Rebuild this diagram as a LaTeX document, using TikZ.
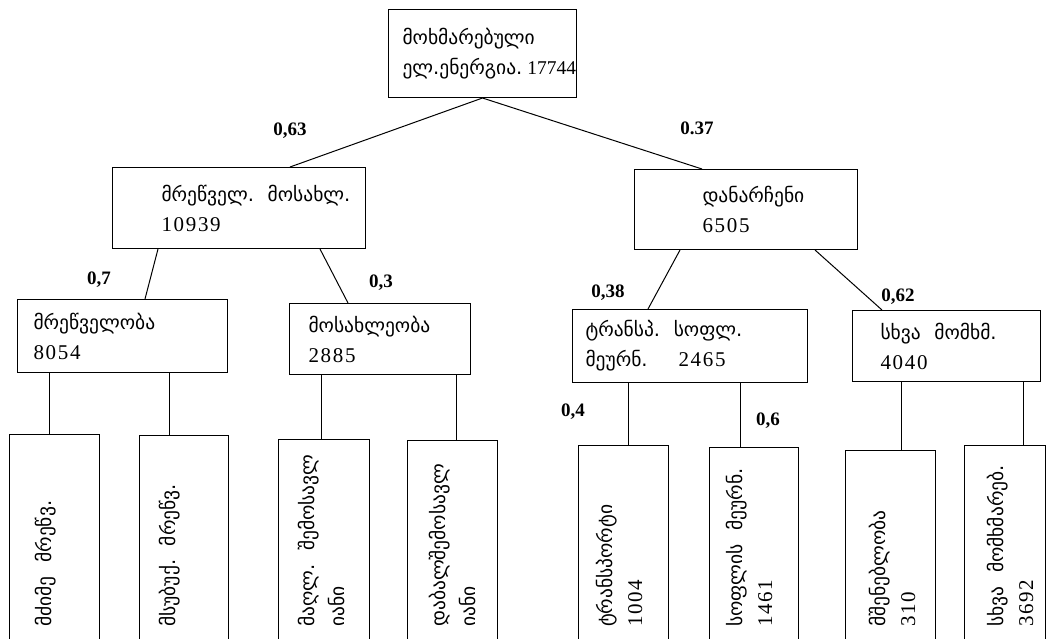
\documentclass[tikz,border=0pt]{standalone}
\usepackage{fontspec}
\setmainfont{Liberation Serif}
\newfontfamily\geo{DejaVu Sans}
\newfontfamily\dig[LetterSpace=8]{Liberation Serif}
\tikzset{
  box/.style 2 args={draw, line width=1pt, anchor=north west, align=left,
    minimum width=#1, minimum height=#2, text width=#1, inner xsep=0pt, inner ysep=2pt},
  txt/.style={font=\fontsize{20}{30}\selectfont},
  vtxt/.style={rotate=90, anchor=west, inner sep=0pt, align=left, font=\fontsize{20}{30}\selectfont},
  lbl/.style={font=\bfseries\fontsize{19}{22}\selectfont, inner sep=0pt},
  con/.style={line width=1pt}
}
\newcommand{\ka}[1]{{\geo\fontsize{19.5}{30}\selectfont #1}}
\newcommand{\nm}[1]{{\dig\fontsize{21}{30}\selectfont #1}}
\newcommand{\bxl}[2]{\hspace*{#1}\mbox{#2}}
\newcommand{\gap}{\hspace{0.7em}}
\begin{document}
\begin{tikzpicture}[x=1pt,y=-1pt]
\useasboundingbox (0,0) rectangle (1048,638);
\clip (0,0) rectangle (1048,638);
\fill[white] (0,0) rectangle (1048,638);
% top
\node[box={188pt}{88pt}, txt] (top) at (388,9)
  {\bxl{14pt}{\ka{მოხმარებული}}\\\bxl{14pt}{\ka{ელ.ენერგია.}\hspace{5pt}{\fontsize{19.5}{30}\selectfont 17744}}};
% level 2
\node[box={253pt}{81pt}, txt] (l2a) at (112,167)
  {\bxl{49pt}{\ka{მრეწველ.\gap მოსახლ.}}\\\bxl{49pt}{\nm{10939}}};
\node[box={223pt}{80pt}, txt] (l2b) at (634,169)
  {\bxl{68pt}{\ka{დანარჩენი}}\\\bxl{68pt}{\nm{6505}}};
% level 3
\node[box={210pt}{73pt}, txt] (l3a) at (17,299)
  {\bxl{16pt}{\ka{მრეწველობა}}\\\bxl{16pt}{\nm{8054}}};
\node[box={181pt}{71pt}, txt] (l3b) at (289,303)
  {\bxl{19pt}{\ka{მოსახლეობა}}\\\bxl{19pt}{\nm{2885}}};
\node[box={235pt}{73pt}, txt] (l3c) at (572,309)
  {\bxl{13pt}{\ka{ტრანსპ.\gap სოფლ.}}\\\bxl{13pt}{\makebox[93pt][l]{\ka{მეურნ.}}\nm{2465}}};
\node[box={188pt}{71pt}, txt] (l3d) at (852,310)
  {\bxl{28pt}{\ka{სხვა\gap მომხმ.}}\\\bxl{28pt}{\nm{4040}}};
% bottom boxes
\node[box={90pt}{230pt}] (b1) at (9,434) {};
\node[box={89pt}{230pt}] (b2) at (139,435) {};
\node[box={91pt}{230pt}] (b3) at (278,439) {};
\node[box={90pt}{230pt}] (b4) at (407,440) {};
\node[box={90pt}{230pt}] (b5) at (578,445) {};
\node[box={89pt}{230pt}] (b6) at (709,447) {};
\node[box={90pt}{230pt}] (b7) at (845,450) {};
\node[box={81pt}{230pt}] (b8) at (964,445) {};
\node[vtxt] (t1) at (46,627) {\ka{მძიმე\gap მრეწვ.}};
\node[vtxt] (t2) at (170,627) {\ka{მსუბუქ.\gap მრეწვ.}};
\node[vtxt] (t3) at (321,627) {\ka{მაღლ.\gap შემოსავლ}\\\ka{იანი}};
\node[vtxt] (t4) at (452,627) {\ka{დაბალშემოსავლ}\\\ka{იანი}};
\node[vtxt] (t5) at (619,627) {\ka{ტრანსპორტი}\\\nm{1004}};
\node[vtxt] (t6) at (749,627) {\ka{სოფლის\gap მეურნ.}\\\nm{1461}};
\node[vtxt] (t7) at (892,627) {\ka{მშენებლობა}\\\nm{310}};
\node[vtxt] (t8) at (1010,627) {\ka{სხვა\gap მომხმარებ.}\\\nm{3692}};
% connectors
\draw[con] (top.south) -- ([xshift=178pt]l2a.north west);
\draw[con] (top.south) -- ([xshift=68pt]l2b.north west);
\draw[con] ([xshift=46pt]l2a.south west) -- ([xshift=128pt]l3a.north west);
\draw[con] ([xshift=208pt]l2a.south west) -- ([xshift=59pt]l3b.north west);
\draw[con] ([xshift=46pt]l2b.south west) -- ([xshift=76pt]l3c.north west);
\draw[con] ([xshift=181pt]l2b.south west) -- ([xshift=30pt]l3d.north west);
\draw[con] ([xshift=32pt]l3a.south west) -- ([xshift=40pt]b1.north west);
\draw[con] ([xshift=152pt]l3a.south west) -- ([xshift=30pt]b2.north west);
\draw[con] ([xshift=32pt]l3b.south west) -- ([xshift=43pt]b3.north west);
\draw[con] ([xshift=167pt]l3b.south west) -- ([xshift=49pt]b4.north west);
\draw[con] ([xshift=56pt]l3c.south west) -- ([xshift=50pt]b5.north west);
\draw[con] ([xshift=168pt]l3c.south west) -- ([xshift=31pt]b6.north west);
\draw[con] ([xshift=49pt]l3d.south west) -- ([xshift=56pt]b7.north west);
\draw[con] ([xshift=171pt]l3d.south west) -- ([xshift=59pt]b8.north west);
% labels
\node[lbl] (p1) at (290,131) {0,63};
\node[lbl] (p2) at (697,128) {0.37};
\node[lbl] (p3) at (99,280) {0,7};
\node[lbl] (p4) at (381,283) {0,3};
\node[lbl] (p5) at (608,293) {0,38};
\node[lbl] (p6) at (898,297) {0,62};
\node[lbl] (p7) at (573,412) {0,4};
\node[lbl] (p8) at (768,421) {0,6};
\end{tikzpicture}
\end{document}
